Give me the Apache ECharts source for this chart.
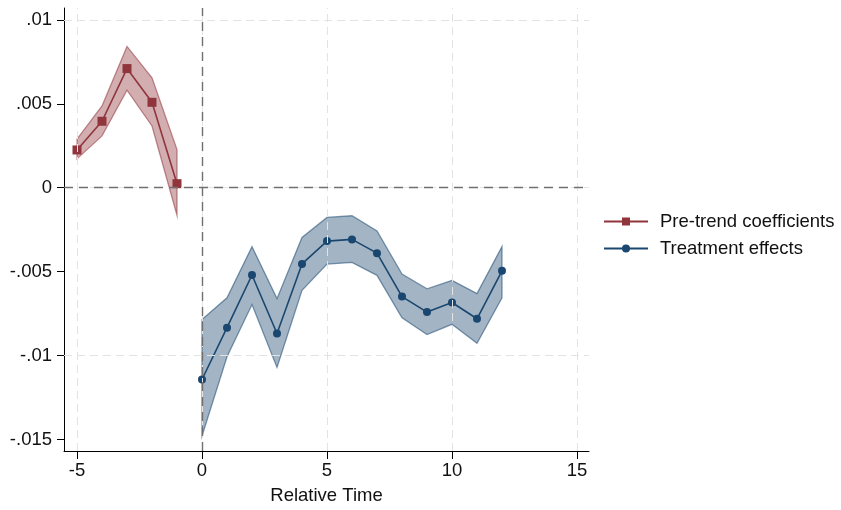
<!DOCTYPE html>
<html>
<head>
<meta charset="utf-8">
<script src="https://cdn.jsdelivr.net/npm/echarts@6/dist/echarts.min.js"></script>
<style>
  html, body { margin: 0; padding: 0; background: #fff; }
  #container { width: 841px; height: 510px; }
</style>
</head>
<body>
<div id="container"></div>
<script>
// pre-trend coefficients (relative time -5..-1)
var preX = [-5, -4, -3, -2, -1];
var preCoef = [0.00225, 0.00396, 0.0071, 0.00509, 0.00024];
var preLo = [0.00172, 0.00309, 0.00581, 0.00368, -0.00164];
var preHi = [0.0029, 0.00487, 0.00842, 0.00655, 0.00227];

// treatment effects (relative time 0..12)
var postX = [0, 1, 2, 3, 4, 5, 6, 7, 8, 9, 10, 11, 12];
var postCoef = [-0.01143, -0.00834, -0.0052, -0.00869, -0.00454, -0.00318, -0.00308, -0.0039, -0.00649, -0.00741, -0.00684, -0.00781, -0.00495];
var postLo = [-0.0148, -0.01007, -0.00696, -0.01071, -0.00611, -0.00455, -0.00445, -0.00522, -0.00775, -0.00875, -0.00814, -0.00927, -0.00656];
var postHi = [-0.00785, -0.00656, -0.00351, -0.00661, -0.00296, -0.00177, -0.00167, -0.00258, -0.00515, -0.00603, -0.00552, -0.00631, -0.00351];

var xTicks = [-5, 0, 5, 10, 15];
var yTicks = [0.01, 0.005, 0, -0.005, -0.01, -0.015];
var yTickLabels = ['.01', '.005', '0', '-.005', '-.01', '-.015'];

var FONT = '"Liberation Sans", Arial, Helvetica, sans-serif';
var FS = 18.5;

var dom = document.getElementById('container');
var myChart = echarts.init(dom, null, { renderer: 'canvas' });

function zip(xs, a, b) {
    return xs.map(function (x, i) { return b ? [x, a[i], b[i]] : [x, a[i]]; });
}

// one polygon for the whole confidence band
function bandRenderer(xs, lo, hi, fill, stroke) {
    return function (params, api) {
        if (params.dataIndex !== 0) return null;
        var pts = [];
        for (var i = 0; i < xs.length; i++) pts.push(api.coord([xs[i], hi[i]]));
        for (var j = xs.length - 1; j >= 0; j--) pts.push(api.coord([xs[j], lo[j]]));
        return {
            type: 'polygon',
            shape: { points: pts },
            style: { fill: fill, stroke: stroke, lineWidth: 1.3 }
        };
    };
}

var gridLineStyle = { color: '#e3e3e3', width: 1, type: [8, 5] };
var refLineStyle = { color: '#707070', width: 1.4, type: [9, 6] };

option = {
    animation: false,
    backgroundColor: '#fff',
    textStyle: { fontFamily: FONT },
    grid: { left: 64, right: 252, top: 8, bottom: 56 },
    legend: {
        orient: 'vertical',
        left: 598,
        top: 207,
        itemWidth: 44,
        itemHeight: 10,
        itemGap: 8,
        data: ['Pre-trend coefficients', 'Treatment effects'],
        textStyle: { fontFamily: FONT, fontSize: FS, color: '#111', padding: [0, 0, 0, 7] }
    },
    xAxis: {
        type: 'value',
        min: -5.52,
        max: 15.48,
        name: 'Relative Time',
        nameLocation: 'middle',
        nameGap: 35,
        nameTextStyle: { fontFamily: FONT, fontSize: FS, color: '#111' },
        axisLine: { show: true, onZero: false, lineStyle: { color: '#000', width: 1 } },
        axisTick: { show: true, length: 8, customValues: xTicks, lineStyle: { color: '#000' } },
        axisLabel: { customValues: xTicks, margin: 10, fontSize: FS, color: '#111', fontFamily: FONT },
        splitLine: { show: false }
    },
    yAxis: {
        type: 'value',
        min: -0.01569,
        max: 0.01071,
        axisLine: { show: true, onZero: false, lineStyle: { color: '#000', width: 1 } },
        axisTick: { show: true, length: 7, customValues: yTicks, lineStyle: { color: '#000' } },
        axisLabel: {
            customValues: yTicks,
            margin: 12,
            fontSize: FS,
            color: '#111',
            fontFamily: FONT,
            formatter: function (v) {
                for (var i = 0; i < yTicks.length; i++) {
                    if (Math.abs(yTicks[i] - v) < 1e-9) return yTickLabels[i];
                }
                return '';
            }
        },
        splitLine: { show: false }
    },
    series: [
        {
            name: 'grid',
            type: 'line',
            data: [],
            z: 1,
            silent: true,
            markLine: {
                silent: true,
                symbol: 'none',
                label: { show: false },
                lineStyle: gridLineStyle,
                data: xTicks.map(function (v) { return { xAxis: v }; })
                    .concat(yTicks.map(function (v) { return { yAxis: v }; }))
            }
        },
        {
            name: 'preBand',
            type: 'custom',
            z: 2,
            silent: true,
            renderItem: bandRenderer(preX, preLo, preHi, 'rgba(144,53,59,0.4)', 'rgba(144,53,59,0.55)'),
            data: zip(preX, preLo, preHi),
            encode: { x: 0, y: [1, 2] }
        },
        {
            name: 'postBand',
            type: 'custom',
            z: 2,
            silent: true,
            renderItem: bandRenderer(postX, postLo, postHi, 'rgba(26,71,111,0.4)', 'rgba(26,71,111,0.55)'),
            data: zip(postX, postLo, postHi),
            encode: { x: 0, y: [1, 2] }
        },
        {
            name: 'ref',
            type: 'line',
            data: [],
            z: 3,
            silent: true,
            markLine: {
                silent: true,
                symbol: 'none',
                label: { show: false },
                lineStyle: refLineStyle,
                data: [{ xAxis: 0 }, { yAxis: 0 }]
            }
        },
        {
            name: 'Pre-trend coefficients',
            type: 'line',
            z: 4,
            data: zip(preX, preCoef),
            symbol: 'rect',
            symbolSize: 9,
            itemStyle: { color: '#90353b' },
            lineStyle: { color: '#90353b', width: 1.6 }
        },
        {
            name: 'Treatment effects',
            type: 'line',
            z: 4,
            data: zip(postX, postCoef),
            symbol: 'circle',
            symbolSize: 8,
            itemStyle: { color: '#1a476f' },
            lineStyle: { color: '#1a476f', width: 1.6 }
        }
    ]
};

if (option && typeof option === 'object') {
    myChart.setOption(option, true);
}
</script>
</body>
</html>
